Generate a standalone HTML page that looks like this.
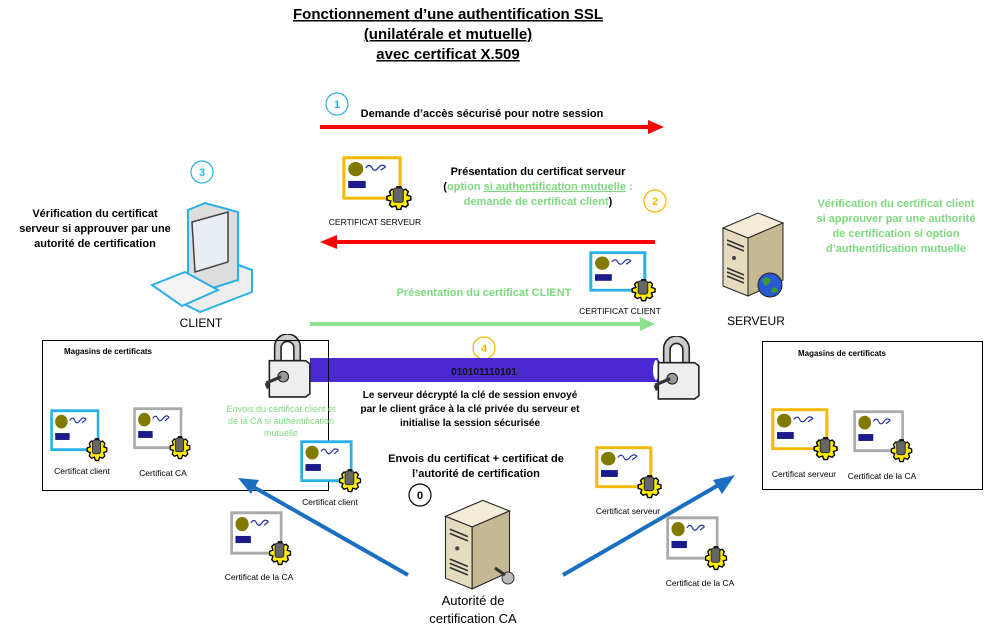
<!DOCTYPE html>
<html><head><meta charset="utf-8"><style>
html,body{margin:0;padding:0;background:#fff;}
svg{display:block;font-family:"Liberation Sans",sans-serif;}
.b{font-weight:bold;}
</style></head><body>
<svg width="1002" height="640" viewBox="0 0 1002 640" xmlns="http://www.w3.org/2000/svg">
<defs>
<symbol id="cert" viewBox="0 0 60 48" preserveAspectRatio="none">
 <rect x="1.5" y="1.5" width="45" height="34" fill="#fff" stroke="currentColor" stroke-width="2.5"/>
 <circle cx="11" cy="11" r="6" fill="#807a00"/>
 <path d="M19 10 q3 -4 5 0 t5 0 t6 -1 m-4 3 l4 -3" stroke="#1a2a9a" fill="none" stroke-width="1"/>
 <rect x="5" y="21" width="14" height="6" fill="#1a1a8a"/>
 <path d="M44 26 l3 0 1 3 3 -1 2 2 -1 3 3 1 0 3 -3 1 1 3 -2 2 -3 -1 -1 3 -3 0 -1 -3 -3 1 -2 -2 1 -3 -3 -1 0 -3 3 -1 -1 -3 2 -2 3 1z" fill="#ffee00" stroke="#000" stroke-width="1.2"/>
 <rect x="41" y="27" width="8" height="12" rx="2" fill="#666" stroke="#222" stroke-width="0.8"/>
</symbol>
<symbol id="lock" viewBox="0 0 45 60">
 <path d="M10 25 V12 a12 12 0 0 1 24 0 V25 h-6 V13 a6 6 0 0 0 -12 0 V25z" fill="#ccc" stroke="#222" stroke-width="1.5"/>
 <path d="M5 25 h34 l4 3 v28 l-4 3 h-34 z" fill="#eee" stroke="#222" stroke-width="1.5"/>
 <circle cx="18" cy="40" r="5" fill="#999" stroke="#222"/>
 <path d="M2 46 l14 -6 M2 46 l2 5" stroke="#333" stroke-width="3" fill="none"/>
</symbol>
<symbol id="srv" viewBox="0 0 70 90">
 <path d="M5 20 L40 5 L65 15 L30 30 Z" fill="#f3ecd8" stroke="#222"/>
 <path d="M5 20 L30 30 V88 L5 78 Z" fill="#e5dcc0" stroke="#222"/>
 <path d="M30 30 L65 15 V72 L30 88 Z" fill="#c6b893" stroke="#222"/>
 <path d="M9 32 l17 7 M9 36 l17 7 M9 60 l17 7 M9 64 l17 7 M9 68 l17 7" stroke="#333" stroke-width="1.5"/>
 <circle cx="16" cy="50" r="2" fill="#444"/>
</symbol>
</defs>

<text x="448" y="19" text-anchor="middle" class="b" font-size="15" text-decoration="underline">Fonctionnement d’une authentification SSL</text>
<text x="448" y="39" text-anchor="middle" class="b" font-size="15" text-decoration="underline">(unilatérale et mutuelle)</text>
<text x="448" y="59" text-anchor="middle" class="b" font-size="15" text-decoration="underline">avec certificat X.509</text>

<g fill="#fff" stroke-width="1.2" font-size="11" class="b" text-anchor="middle">
<circle cx="337" cy="104" r="11" stroke="#2ab0e8"/><text x="337" y="108" fill="#2ab0e8">1</text>
<circle cx="202" cy="172" r="11" stroke="#2ab0e8"/><text x="202" y="176" fill="#2ab0e8">3</text>
<circle cx="655" cy="201" r="11" stroke="#f5b800"/><text x="655" y="205" fill="#f5b800">2</text>
<circle cx="484" cy="348" r="11" stroke="#f5b800"/><text x="484" y="352" fill="#f5b800">4</text>
<circle cx="420" cy="495" r="11" stroke="#000"/><text x="420" y="499" fill="#000">0</text>
</g>

<text x="482" y="117" text-anchor="middle" class="b" font-size="11">Demande d’accès sécurisé pour notre session</text>
<line x1="320" y1="127" x2="650" y2="127" stroke="#f00" stroke-width="4"/><path d="M648 120 L664 127 L648 134z" fill="#f00"/>

<text x="538" y="175" text-anchor="middle" class="b" font-size="11">Présentation du certificat serveur</text>
<text x="538" y="190" text-anchor="middle" class="b" font-size="11"><tspan>(</tspan><tspan fill="#7ed87e">option </tspan><tspan fill="#7ed87e" text-decoration="underline">si authentification mutuelle</tspan><tspan fill="#7ed87e"> :</tspan></text>
<text x="538" y="205" text-anchor="middle" class="b" font-size="11"><tspan fill="#7ed87e">demande de certificat client</tspan><tspan>)</tspan></text>
<line x1="335" y1="242" x2="655" y2="242" stroke="#f00" stroke-width="4"/><path d="M337 235 L320 242 L337 249z" fill="#f00"/>

<text x="484" y="296" text-anchor="middle" class="b" font-size="11" fill="#7ed87e">Présentation du certificat CLIENT</text>
<line x1="310" y1="324" x2="642" y2="324" stroke="#8ee08e" stroke-width="4"/><path d="M640 317 L655 324 L640 331z" fill="#8ee08e"/>

<use href="#cert" x="342" y="156" width="75" height="57" style="color:#f5b800"/>
<text x="375" y="225" text-anchor="middle" font-size="8.5">CERTIFICAT SERVEUR</text>
<use href="#cert" x="589" y="251" width="72" height="53" style="color:#2ab0e8"/>
<text x="620" y="314" text-anchor="middle" font-size="8.5">CERTIFICAT CLIENT</text>

<!-- client -->
<text x="95" y="217" text-anchor="middle" class="b" font-size="11">Vérification du certificat</text>
<text x="95" y="232" text-anchor="middle" class="b" font-size="11">serveur si approuver par une</text>
<text x="95" y="247" text-anchor="middle" class="b" font-size="11">autorité de certification</text>
<g stroke="#2ab0e8" stroke-width="2">
<path d="M180 280 L230 262 L252 270 V292 L200 312 L180 302z" fill="#eee"/>
<path d="M188 210 L205 203 L238 212 V280 L200 292 L188 285z" fill="#ddd"/>
<path d="M192 222 L228 212 V262 L195 272 Z" fill="#e8eef4" stroke="#444" stroke-width="1.5"/>
<path d="M152 285 L185 272 L218 290 L182 306z" fill="#f4f4f4"/>
</g>
<text x="201" y="327" text-anchor="middle" font-size="12">CLIENT</text>

<!-- server -->
<use href="#srv" x="718" y="208" width="70" height="90"/>
<circle cx="770" cy="285" r="12" fill="#2a58d0" stroke="#222"/><path d="M762 280 q5 -5 9 0 q-2 5 -6 6z M772 288 q5 -2 6 3 q-4 3 -7 1z" fill="#3a9a3a"/>
<text x="756" y="325" text-anchor="middle" font-size="12">SERVEUR</text>
<g class="b" font-size="11" fill="#7ed87e" text-anchor="middle">
<text x="896" y="207">Vérification du certificat client</text>
<text x="896" y="222">si approuver par une authorité</text>
<text x="896" y="237">de certification si option</text>
<text x="896" y="252">d’authentification mutuelle</text>
</g>

<!-- tube -->
<rect x="310" y="358" width="348" height="24" fill="#4a2ad0"/>
<ellipse cx="656" cy="370" rx="4" ry="11" fill="#fff" stroke="#4a2ad0" stroke-width="2"/>
<text x="484" y="375" text-anchor="middle" class="b" font-size="10" fill="#111">010101110101</text>
<use href="#lock" x="264" y="334" width="48" height="64"/>
<use href="#lock" x="653" y="336" width="48" height="64"/>
<g class="b" font-size="10" text-anchor="middle">
<text x="470" y="398">Le serveur décrypté la clé de session envoyé</text>
<text x="470" y="412">par le client grâce à la clé privée du serveur et</text>
<text x="470" y="426">initialise la session sécurisée</text>
</g>

<!-- magasin left -->
<rect x="42.5" y="340.5" width="286" height="150" fill="none" stroke="#000"/>
<text x="108" y="354" text-anchor="middle" class="b" font-size="8">Magasins de certificats</text>
<use href="#cert" x="50" y="409" width="62" height="55" style="color:#2ab0e8"/>
<text x="82" y="474" text-anchor="middle" font-size="8.5">Certificat client</text>
<use href="#cert" x="133" y="407" width="62" height="55" style="color:#aaa"/>
<text x="163" y="476" text-anchor="middle" font-size="8.5">Certificat CA</text>

<g font-size="9" fill="#7ed87e" text-anchor="middle">
<text x="281" y="412">Envois du certificat client et</text>
<text x="281" y="424">de la CA si authentification</text>
<text x="281" y="436">mutuelle</text>
</g>
<use href="#cert" x="300" y="440" width="66" height="55" style="color:#2ab0e8"/>
<text x="330" y="505" text-anchor="middle" font-size="8.5">Certificat client</text>
<use href="#cert" x="230" y="511" width="66" height="57" style="color:#aaa"/>
<text x="259" y="580" text-anchor="middle" font-size="8.5">Certificat de la CA</text>

<line x1="408" y1="575" x2="250" y2="485" stroke="#1a6fc0" stroke-width="4"/><path d="M238 478 L259 480 L251 494z" fill="#1a6fc0"/>
<line x1="563" y1="575" x2="722" y2="483" stroke="#1a6fc0" stroke-width="4"/><path d="M735 475 L713 480 L722 494z" fill="#1a6fc0"/>

<text x="476" y="462" text-anchor="middle" class="b" font-size="11">Envois du certificat + certificat de</text>
<text x="476" y="477" text-anchor="middle" class="b" font-size="11">l’autorité de certification</text>
<use href="#srv" x="440" y="495" width="75" height="96"/>
<circle cx="508" cy="578" r="6" fill="#bbb" stroke="#333"/><line x1="495" y1="568" x2="505" y2="575" stroke="#333" stroke-width="3"/>
<text x="473" y="605" text-anchor="middle" font-size="13">Autorité de</text>
<text x="473" y="623" text-anchor="middle" font-size="13">certification CA</text>

<use href="#cert" x="595" y="446" width="72" height="55" style="color:#f5b800"/>
<text x="628" y="514" text-anchor="middle" font-size="8.5">Certificat serveur</text>
<use href="#cert" x="666" y="516" width="66" height="57" style="color:#aaa"/>
<text x="700" y="586" text-anchor="middle" font-size="8.5">Certificat de la CA</text>

<!-- magasin right -->
<rect x="762.5" y="341.5" width="220" height="148" fill="none" stroke="#000"/>
<text x="842" y="356" text-anchor="middle" class="b" font-size="8">Magasins de certificats</text>
<use href="#cert" x="771" y="408" width="72" height="55" style="color:#f5b800"/>
<text x="804" y="477" text-anchor="middle" font-size="8.5">Certificat serveur</text>
<use href="#cert" x="853" y="410" width="64" height="55" style="color:#aaa"/>
<text x="882" y="479" text-anchor="middle" font-size="8.5">Certificat de la CA</text>
</svg>
</body></html>
